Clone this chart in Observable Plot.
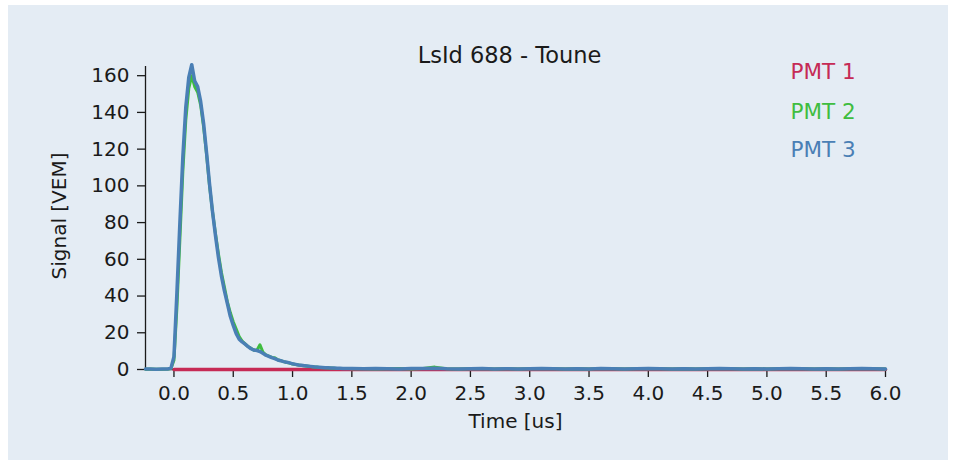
<!DOCTYPE html>
<html>
<head>
<meta charset="utf-8">
<script src="https://cdn.jsdelivr.net/npm/d3@7"></script>
<script src="https://cdn.jsdelivr.net/npm/@observablehq/plot@0.6"></script>
<style>
  html, body { margin: 0; padding: 0; background: #ffffff; }
  #wrap { position: relative; width: 955px; height: 465px; overflow: hidden; }
  #panel { position: absolute; left: 8px; top: 5px; width: 940px; height: 455px; background: #e4ecf4; }
  #chart { position: absolute; left: 0; top: 0; }
</style>
</head>
<body>
<div id="wrap"><div id="panel"></div><div id="chart"></div></div>
<script>
// ---- data ----
const chartTitle = "LsId 688 - Toune";
const xLabel = "Time [us]";
const yLabel = "Signal [VEM]";
const seriesNames = ["PMT 1", "PMT 2", "PMT 3"];
const seriesColors = ["#c62a55", "#3fbd3f", "#4a7fb5"];

const xTicks = [0.0, 0.5, 1.0, 1.5, 2.0, 2.5, 3.0, 3.5, 4.0, 4.5, 5.0, 5.5, 6.0];
const yTicks = [0, 20, 40, 60, 80, 100, 120, 140, 160];

// time samples [us]
const times = [
  -0.24, -0.2, -0.15, -0.1, -0.05, -0.025,
  0.000, 0.025, 0.050, 0.075, 0.100, 0.125, 0.150, 0.175, 0.200, 0.225,
  0.250, 0.275, 0.300, 0.325, 0.350, 0.375, 0.400, 0.425, 0.450, 0.475,
  0.500, 0.525, 0.550, 0.575, 0.600, 0.625, 0.650, 0.675, 0.700, 0.725,
  0.750, 0.775, 0.800, 0.825, 0.850, 0.875, 0.900, 0.925, 0.950, 0.975,
  1.000, 1.025, 1.050, 1.075, 1.100, 1.125, 1.150, 1.175, 1.200, 1.225,
  1.250, 1.275, 1.300, 1.325, 1.350, 1.375, 1.400, 1.425, 1.450, 1.475,
  1.500,
  1.6, 1.7, 1.8, 1.9, 2.0, 2.1, 2.2, 2.3, 2.4, 2.5,
  2.6, 2.7, 2.8, 2.9, 3.0, 3.1, 3.2, 3.3, 3.4, 3.5,
  3.6, 3.7, 3.8, 3.9, 4.0, 4.1, 4.2, 4.3, 4.4, 4.5,
  4.6, 4.7, 4.8, 4.9, 5.0, 5.1, 5.2, 5.3, 5.4, 5.5,
  5.6, 5.7, 5.8, 5.9, 6.0
];

// PMT 1 trace: flat at zero
const pmt1Times = [0.0, 1.0, 2.0, 3.0, 4.0, 5.0, 6.0];
const pmt1 = [0, 0, 0, 0, 0, 0, 0];

const pmt2 = [
  0.2, 0.3, 0.2, 0.2, 0.3, 0.5,
  5, 34, 71, 108, 136, 153, 160, 154, 151, 144,
  132, 117, 100, 86, 74, 63, 53, 45, 37, 31,
  26, 22, 18, 15.5, 14, 12.5, 11.5, 10.5, 10.5, 13.5,
  9.5, 8, 7.3, 6.6, 6.4, 5.3, 4.8, 4.3, 3.8, 3.5,
  3.0, 2.7, 2.5, 2.2, 2.0, 1.8, 1.6, 1.4, 1.3, 1.1,
  1.0, 0.9, 0.8, 0.8, 0.7, 0.6, 0.6, 0.5, 0.5, 0.5,
  0.4,
  0.4, 0.3, 0.4, 0.5, 0.3, 0.6, 1.3, 0.4, 0.3, 0.4,
  0.5, 0.3, 0.4, 0.3, 0.4, 0.5, 0.4, 0.3, 0.4, 0.3,
  0.5, 0.4, 0.3, 0.4, 0.5, 0.4, 0.3, 0.4, 0.3, 0.4,
  0.5, 0.4, 0.3, 0.4, 0.3, 0.4, 0.5, 0.4, 0.3, 0.4,
  0.3, 0.4, 0.5, 0.4, 0.3
];

const pmt3 = [
  0.3, 0.3, 0.2, 0.3, 0.3, 0.8,
  7, 42, 80, 116, 143, 159, 166, 157, 154, 146,
  134, 118, 101, 86, 73, 61, 51, 43, 36, 29,
  24, 19.5, 16.5, 15, 13.8, 12.5, 11.3, 10.6, 10.3, 9.8,
  8.8, 7.8, 7.2, 6.5, 5.9, 5.2, 4.8, 4.3, 4.0, 3.6,
  3.1, 2.8, 2.5, 2.3, 2.1, 1.9, 1.7, 1.5, 1.3, 1.2,
  1.1, 1.0, 0.9, 0.8, 0.8, 0.7, 0.7, 0.6, 0.6, 0.5,
  0.5,
  0.4, 0.5, 0.4, 0.3, 0.5, 0.6, 0.7, 0.4, 0.3, 0.4,
  0.5, 0.3, 0.4, 0.3, 0.4, 0.5, 0.4, 0.3, 0.4, 0.3,
  0.5, 0.4, 0.3, 0.4, 0.5, 0.4, 0.3, 0.4, 0.3, 0.4,
  0.5, 0.4, 0.3, 0.4, 0.3, 0.4, 0.5, 0.4, 0.3, 0.4,
  0.3, 0.4, 0.5, 0.4, 0.3
];

if (pmt2.length !== times.length || pmt3.length !== times.length) {
  throw new Error("length mismatch " + times.length + " " + pmt2.length + " " + pmt3.length);
}

const rows1 = pmt1Times.map((t, i) => ({t, v: pmt1[i]}));
const rows2 = times.map((t, i) => ({t, v: pmt2[i]}));
const rows3 = times.map((t, i) => ({t, v: pmt3[i]}));

const font = "DejaVu Sans, Verdana, sans-serif";
const ink = "#1a1a1a";

const plot = Plot.plot({
  width: 955,
  height: 465,
  marginLeft: 145,
  marginRight: 70,
  marginTop: 66,
  marginBottom: 96,
  style: {background: "transparent", fontFamily: font, color: ink, overflow: "visible"},
  x: {domain: [-0.24, 6.0]},
  y: {domain: [0, 165]},
  marks: [
    Plot.ruleY([0], {stroke: ink, strokeWidth: 1.3}),
    Plot.ruleX([-0.24], {stroke: ink, strokeWidth: 1.3}),
    Plot.axisX({ticks: xTicks, tickFormat: d3.format(".1f"), tickSize: 8, tickPadding: 8,
                fontSize: 20, label: null, stroke: ink, strokeWidth: 1.3, fill: ink}),
    Plot.axisY({ticks: yTicks, tickFormat: d3.format("d"), tickSize: 8, tickPadding: 8,
                fontSize: 20, label: null, stroke: ink, strokeWidth: 1.3, fill: ink}),
    Plot.line(rows1, {x: "t", y: "v", stroke: seriesColors[0], strokeWidth: 3.5}),
    Plot.line(rows2, {x: "t", y: "v", stroke: seriesColors[1], strokeWidth: 3}),
    Plot.line(rows3, {x: "t", y: "v", stroke: seriesColors[2], strokeWidth: 3.5}),
    Plot.text([chartTitle], {text: d => d, frameAnchor: "top", dx: -6, dy: -11,
                lineAnchor: "middle", fontSize: 22.5, fill: ink}),
    Plot.text([xLabel], {text: d => d, frameAnchor: "bottom", dy: 52,
                lineAnchor: "middle", fontSize: 20, fill: ink}),
    Plot.text([yLabel], {text: d => d, frameAnchor: "left", dx: -86, dy: -2,
                rotate: -90, textAnchor: "middle", lineAnchor: "middle", fontSize: 20, fill: ink}),
    Plot.text([seriesNames[0]], {text: d => d, frameAnchor: "top-left", dx: 645, dy: 6,
                textAnchor: "start", lineAnchor: "middle", fontSize: 21.5, fill: seriesColors[0]}),
    Plot.text([seriesNames[1]], {text: d => d, frameAnchor: "top-left", dx: 645, dy: 46,
                textAnchor: "start", lineAnchor: "middle", fontSize: 21.5, fill: seriesColors[1]}),
    Plot.text([seriesNames[2]], {text: d => d, frameAnchor: "top-left", dx: 645, dy: 84,
                textAnchor: "start", lineAnchor: "middle", fontSize: 21.5, fill: seriesColors[2]})
  ]
});
document.getElementById("chart").appendChild(plot);
</script>
</body>
</html>
